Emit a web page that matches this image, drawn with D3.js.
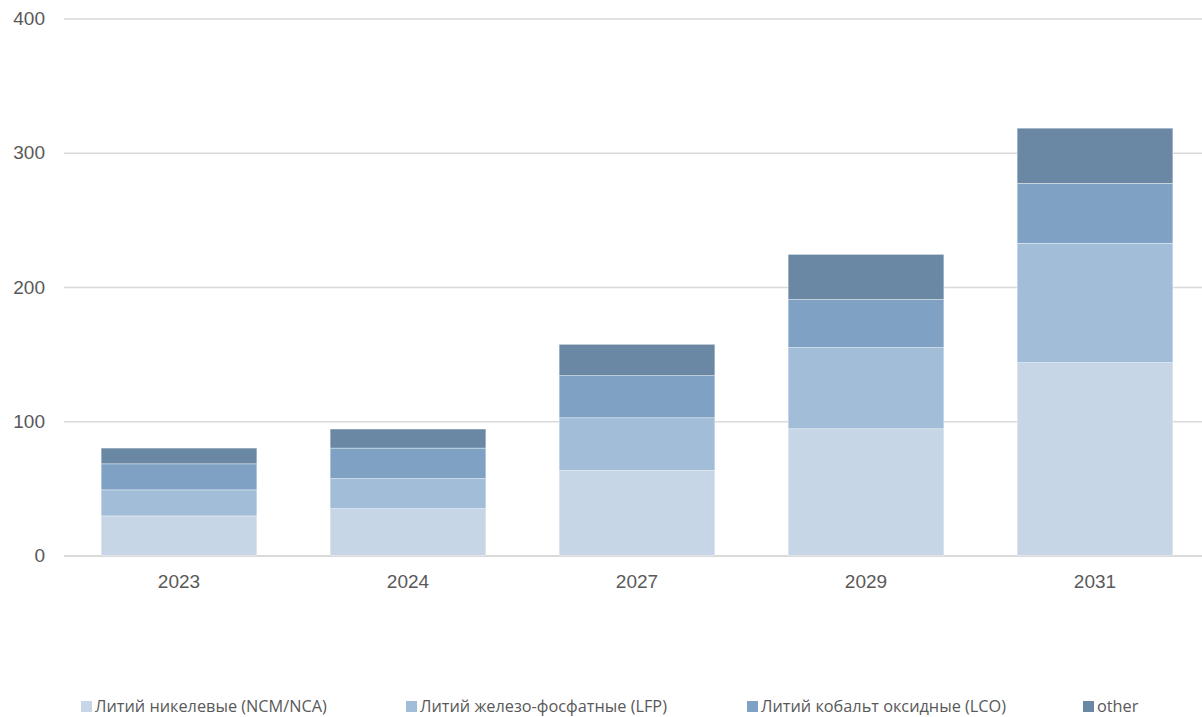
<!DOCTYPE html>
<html>
<head>
<meta charset="utf-8">
<script src="https://cdn.jsdelivr.net/npm/d3@7"></script>
<style>
  html, body { margin: 0; padding: 0; background: #fff; }
  svg { display: block; font-family: "Open Sans", "Noto Sans", sans-serif; }
</style>
</head>
<body>
<svg id="chart" width="1202" height="717"></svg>
<script>
// Battery demand by chemistry, stacked per year
const years = ["2023", "2024", "2027", "2029", "2031"];
const seriesNames = [
  "Литий никелевые (NCM/NCA)",
  "Литий железо-фосфатные (LFP)",
  "Литий кобальт оксидные (LCO)",
  "other"
];
const ncm   = [29.5, 34.9, 63.3, 94.4, 143.7];
const lfp   = [19.4, 22.4, 39.3, 60.5, 88.8];
const lco   = [19.4, 22.7, 31.4, 35.8, 44.7];
const other = [11.7, 14.2, 23.3, 33.6, 41.1];
const yTicks = [0, 100, 200, 300, 400];
const colors = ["#c6d6e6", "#a1bdd7", "#7fa2c4", "#6a88a3"];

const seriesKeys = ["ncm", "lfp", "lco", "other"];
const rows = years.map((y, i) => ({
  year: y, ncm: ncm[i], lfp: lfp[i], lco: lco[i], other: other[i]
}));

const svg = d3.select("#chart");

const x = d3.scaleBand()
  .domain(years)
  .range([64.5, 1209.5])
  .paddingInner(0.32)
  .paddingOuter(0.16);

const y = d3.scaleLinear()
  .domain([0, 400])
  .range([555.5, 18.5]);

// Horizontal gridlines with value labels
const yAxis = d3.axisLeft(y)
  .tickValues(yTicks)
  .tickSize(-(1202 - 64))
  .tickPadding(19)
  .tickFormat(d3.format("d"));

const gy = svg.append("g")
  .attr("transform", "translate(64,0)")
  .call(yAxis);
gy.select(".domain").remove();
gy.selectAll(".tick line")
  .attr("stroke", "#d9d9d9")
  .attr("stroke-width", d => d === 0 ? 2 : 1.3);
gy.selectAll(".tick text")
  .attr("fill", "#595959")
  .style("font-size", "19px");

// Stacked bars
const stack = d3.stack().keys(seriesKeys);
const layers = stack(rows);

svg.append("g")
  .selectAll("g")
  .data(layers)
  .join("g")
  .attr("fill", (d, i) => colors[i])
  .selectAll("rect")
  .data(d => d)
  .join("rect")
  .attr("x", d => x(d.data.year))
  .attr("width", x.bandwidth())
  .attr("y", d => y(d[1]))
  .attr("height", d => y(d[0]) - y(d[1]))
  .attr("stroke", "#ffffff")
  .attr("stroke-opacity", 0.5)
  .attr("stroke-width", 0.75);

// Year labels
const xAxis = d3.axisBottom(x).tickSize(0).tickPadding(19);
const gx = svg.append("g")
  .attr("transform", `translate(0,${y(0)})`)
  .call(xAxis);
gx.select(".domain").remove();
gx.selectAll(".tick text")
  .attr("fill", "#595959")
  .style("font-size", "19px");

// Legend
const legendX = [81, 406, 747, 1083];
const legend = svg.append("g")
  .selectAll("g")
  .data(seriesNames)
  .join("g")
  .attr("transform", (d, i) => `translate(${legendX[i]},706.5)`);
legend.append("rect")
  .attr("x", 0).attr("y", -5.5)
  .attr("width", 11).attr("height", 11)
  .attr("fill", (d, i) => colors[i]);
legend.append("text")
  .attr("x", 14)
  .attr("dy", "0.35em")
  .attr("fill", "#595959")
  .style("font-size", "16.3px")
  .text(d => d);
</script>
</body>
</html>
